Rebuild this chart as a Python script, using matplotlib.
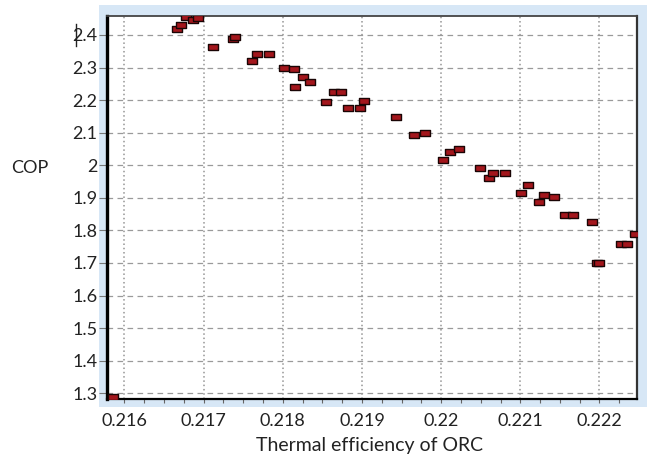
import matplotlib
matplotlib.use("Agg")
import matplotlib.pyplot as plt
from matplotlib.patches import Rectangle
from matplotlib.lines import Line2D
from matplotlib.ticker import MultipleLocator

# data

thermal_eff = [0.21586, 0.21667, 0.21672, 0.21678, 0.21687, 0.21693, 0.21712,
               0.21737, 0.21740, 0.21761, 0.21768, 0.21783, 0.21802, 0.21814,
               0.21816, 0.21826, 0.21834, 0.21855, 0.21865, 0.21874, 0.21882,
               0.21897, 0.21903, 0.21943, 0.21966, 0.21979, 0.22002, 0.22011,
               0.22023, 0.22049, 0.22060, 0.22066, 0.22081, 0.22101, 0.22110,
               0.22123, 0.22130, 0.22143, 0.22157, 0.22166, 0.22190, 0.22197,
               0.22200, 0.22227, 0.22235, 0.22245]
cop = [1.290, 2.419, 2.429, 2.454, 2.446, 2.452, 2.363,
       2.387, 2.393, 2.321, 2.342, 2.342, 2.300, 2.294,
       2.240, 2.272, 2.254, 2.193, 2.225, 2.225, 2.177,
       2.177, 2.196, 2.149, 2.093, 2.099, 2.015, 2.040,
       2.049, 1.993, 1.962, 1.975, 1.975, 1.915, 1.940,
       1.886, 1.909, 1.902, 1.848, 1.848, 1.827, 1.700,
       1.699, 1.757, 1.757, 1.789]

x_ticks = [0.216, 0.217, 0.218, 0.219, 0.22, 0.221, 0.222]
x_labels = ["0.216", "0.217", "0.218", "0.219", "0.22", "0.221", "0.222"]
y_ticks = [1.3, 1.4, 1.5, 1.6, 1.7, 1.8, 1.9, 2.0, 2.1, 2.2, 2.3, 2.4]
y_labels = ["1.3", "1.4", "1.5", "1.6", "1.7", "1.8", "1.9", "2", "2.1", "2.2", "2.3", "2.4"]

plt.rcParams["font.family"] = ["Lato", "DejaVu Sans"]

W, H = 647, 462
fig = plt.figure(figsize=(W / 100, H / 100), dpi=100)

# light blue frame behind the axes
fig.patches.append(Rectangle((99 / W, (H - 407) / H), (W - 99) / W, (407 - 5) / H,
                             transform=fig.transFigure, facecolor="#d7e7f6",
                             edgecolor="none", zorder=-1))

ax = fig.add_axes([107 / W, (H - 399) / H, (636.7 - 107) / W, (399 - 15.7) / H])
ax.set_zorder(1)
ax.set_facecolor("white")

# flat rectangular marker
rect = [(-1, -0.55), (1, -0.55), (1, 0.55), (-1, 0.55), (-1, -0.55)]
ax.plot(thermal_eff, cop, linestyle="none", marker=rect, markersize=6.8,
        markerfacecolor="#a3161c", markeredgecolor="#1a0505", markeredgewidth=1.0,
        zorder=3)

ax.set_xlim(0.21578, 0.22247)
ax.set_ylim(1.2825, 2.459)

ax.set_xticks(x_ticks)
ax.set_xticklabels(x_labels)
ax.set_yticks(y_ticks)
ax.set_yticklabels(y_labels)
ax.xaxis.set_minor_locator(MultipleLocator(0.00025))

ax.tick_params(axis="x", which="both", direction="out", length=3, width=0.8,
               color="#666666", pad=7, labelsize=13, labelcolor="#222222")
ax.tick_params(axis="y", which="major", direction="out", length=6, width=0.8,
               color="#777777", pad=1, labelsize=13, labelcolor="#222222")

# grid: dotted verticals, dashed horizontals
ax.grid(axis="x", which="major", linestyle=(0, (1.0, 1.8)), color="#959595", linewidth=1.1)
ax.grid(axis="y", which="major", linestyle=(0, (4.5, 3.5)), color="#9a9a9a", linewidth=0.9)
ax.set_axisbelow(True)

ax.spines["left"].set_linewidth(2.4)
ax.spines["left"].set_color("black")
ax.spines["bottom"].set_linewidth(1.6)
ax.spines["bottom"].set_color("black")
ax.spines["top"].set_linewidth(1.3)
ax.spines["top"].set_color("#444444")
ax.spines["right"].set_linewidth(1.6)
ax.spines["right"].set_color("#333333")

fig.text(370 / W, 1 - 445 / H, "Thermal efficiency of ORC", ha="center", va="center",
         fontsize=14, color="#222222")
fig.text(30 / W, 1 - 168 / H, "COP", ha="center", va="center",
         fontsize=13, color="#222222")

# small cursor mark left of the 2.4 label
fig.lines.append(Line2D([75.5 / W, 75.5 / W], [1 - 24 / H, 1 - 46 / H],
                        transform=fig.transFigure, color="#222222", linewidth=1.0))

fig.savefig("out.png", dpi=100)
